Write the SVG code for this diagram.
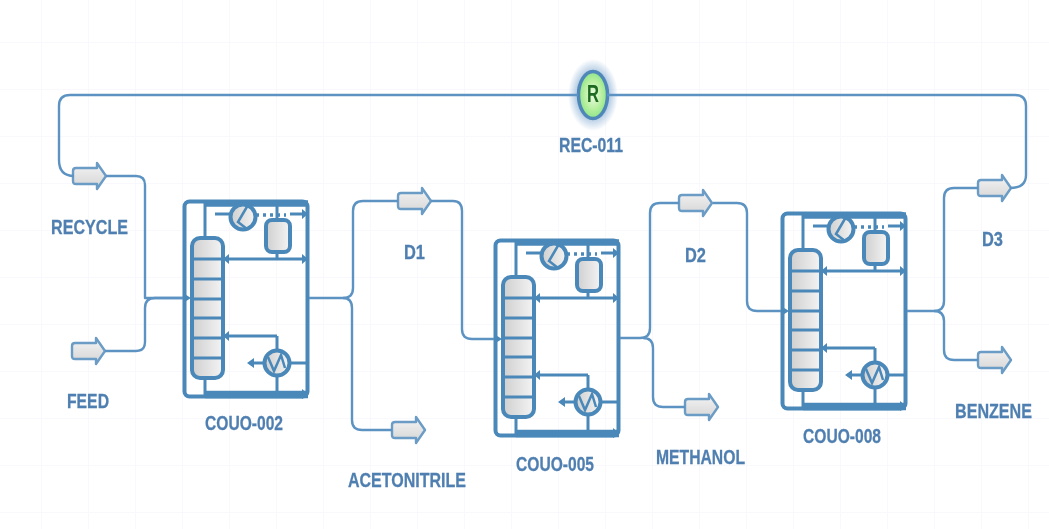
<svg xmlns="http://www.w3.org/2000/svg" xmlns:xlink="http://www.w3.org/1999/xlink" width="1049" height="529" viewBox="0 0 1049 529">
<style>
.lb{font-family:"Liberation Sans",Arial,sans-serif;font-weight:bold;font-size:20px;fill:#4f7fb0;stroke:#4f7fb0;stroke-width:.3;text-anchor:start}
.c{fill:none;stroke:#5b93c2;stroke-width:2.4;stroke-linejoin:round}
.s{fill:none;stroke:#4a88b8;stroke-width:3}
.b{fill:none;stroke:#4a88b8;stroke-width:4}
.g{fill:url(#gr);stroke:#4a88b8;stroke-width:4}
.a{fill:#4a88b8}
.st{fill:url(#gr2);stroke:#6a9cc6;stroke-width:2.4;stroke-linejoin:round}
</style>
<defs>
<filter id="soft" x="-5%" y="-5%" width="110%" height="110%"><feGaussianBlur stdDeviation="0.45"/></filter>
<pattern id="grid" width="47" height="47" patternUnits="userSpaceOnUse" x="-6" y="-5">
<path d="M47 0H0V47" fill="none" stroke="#f3f4fb" stroke-width="1"/>
</pattern>
<linearGradient id="gr"><stop offset="0" stop-color="#cfcfcf"/><stop offset="1" stop-color="#f4f4f4"/></linearGradient>
<linearGradient id="gr2" x1="0" y1="0" x2="0" y2="1"><stop offset="0" stop-color="#f4f4f4"/><stop offset="1" stop-color="#d4d4d4"/></linearGradient>
<radialGradient id="rg"><stop offset="0" stop-color="#eefbe6"/><stop offset=".6" stop-color="#b8f0a0"/><stop offset="1" stop-color="#8fe58a"/></radialGradient>
<radialGradient id="glow"><stop offset=".55" stop-color="#7fa8d0" stop-opacity=".75"/><stop offset="1" stop-color="#7fa8d0" stop-opacity="0"/></radialGradient>
<path id="stream" d="M3 5H24V0L33 13L24 26V21H3Q0 21 0 18V8Q0 5 3 5Z"/>
<g id="column">
<rect x="1.500" y="1.500" width="123" height="195" rx="5" class="b"/>
<path d="M22 38V2M94 2V20M94 52V59M94 136V150M94 176V196M22 178V196" class="s"/>
<path d="M22 3.500H125" fill="none" stroke="#4a88b8" stroke-width="6.500"/>
<path d="M22 194.500H125" fill="none" stroke="#4a88b8" stroke-width="7.500"/>
<path d="M32 14H48M107 14H120" class="s"/>
<path d="M73 15H103" fill="none" stroke="#4a88b8" stroke-width="3.500" stroke-dasharray="3 4"/>
<path class="a" d="M125 14l-6-5v10zM40 59l6-5v10zM125 59l-6-5v10zM40 136l6-5v10zM64 163l7-5v10zM125 194l-6-5v10z"/>
<path d="M44 59H120M44 136H94M68 163H81M107 163H125" class="s"/>
<rect x="83" y="20" width="24" height="32" rx="6" class="g"/>
<rect x="9" y="38" width="31" height="140" rx="8" class="g"/>
<path d="M9 59H40M9 79H40M9 99H40M9 118H40M9 138H40M9 158H40" class="s"/>
<circle cx="60" cy="17" r="12.500" class="g"/>
<path d="M65 5L55 22L64 29" fill="none" stroke="#4a88b8" stroke-width="2.500"/>
<circle cx="94" cy="163" r="12.500" class="g"/>
<path d="M85 157L91 171L98 155L102 168" fill="none" stroke="#4a88b8" stroke-width="2.500"/>
</g>
</defs>
<rect width="1049" height="529" fill="#fff"/>
<rect width="1049" height="529" fill="url(#grid)"/>
<g filter="url(#soft)">
<g id="REC-011">
<ellipse cx="593" cy="95" rx="25" ry="36" fill="url(#glow)"/>
<ellipse cx="593" cy="95" rx="14.500" ry="23.500" fill="url(#rg)" stroke="#4f88b8" stroke-width="3.500"/>
<text x="587" y="102" font-family="Liberation Sans,sans-serif" font-weight="bold" font-size="24" fill="#1f6a20" textLength="12" lengthAdjust="spacingAndGlyphs">R</text>
<text class="lb" x="559" y="152" textLength="64" lengthAdjust="spacingAndGlyphs">REC-011</text>
</g>
<g id="RECYCLE"><use xlink:href="#stream" x="73" y="163" class="st"/><text class="lb" x="51" y="234" textLength="77" lengthAdjust="spacingAndGlyphs">RECYCLE</text></g>
<g id="FEED"><use xlink:href="#stream" x="72" y="338" class="st"/><text class="lb" x="67" y="408" textLength="42" lengthAdjust="spacingAndGlyphs">FEED</text></g>
<g id="D1"><use xlink:href="#stream" x="398" y="188" class="st"/><text class="lb" x="404" y="259" textLength="21" lengthAdjust="spacingAndGlyphs">D1</text></g>
<g id="ACETONITRILE"><use xlink:href="#stream" x="392" y="417" class="st"/><text class="lb" x="348" y="487" textLength="118" lengthAdjust="spacingAndGlyphs">ACETONITRILE</text></g>
<g id="D2"><use xlink:href="#stream" x="679" y="190" class="st"/><text class="lb" x="685" y="262" textLength="21" lengthAdjust="spacingAndGlyphs">D2</text></g>
<g id="METHANOL"><use xlink:href="#stream" x="685" y="394" class="st"/><text class="lb" x="656" y="464" textLength="89" lengthAdjust="spacingAndGlyphs">METHANOL</text></g>
<g id="D3"><use xlink:href="#stream" x="978" y="175" class="st"/><text class="lb" x="982" y="246" textLength="21" lengthAdjust="spacingAndGlyphs">D3</text></g>
<g id="BENZENE"><use xlink:href="#stream" x="978" y="347" class="st"/><text class="lb" x="955" y="418" textLength="77" lengthAdjust="spacingAndGlyphs">BENZENE</text></g>
<g id="COUO-002"><use xlink:href="#column" x="183" y="200"/><text class="lb" x="205" y="430" textLength="78" lengthAdjust="spacingAndGlyphs">COUO-002</text></g>
<g id="COUO-005"><use xlink:href="#column" x="494" y="239"/><text class="lb" x="516" y="471" textLength="78" lengthAdjust="spacingAndGlyphs">COUO-005</text></g>
<g id="COUO-008"><use xlink:href="#column" x="781" y="212"/><text class="lb" x="803" y="443" textLength="78" lengthAdjust="spacingAndGlyphs">COUO-008</text></g>
<g id="connectors">
<path class="c" d="M578 95H70Q59 95 59 106V160Q59 176 74 176"/>
<path class="c" d="M106 176H136Q145 176 145 185V298H183"/>
<path class="c" d="M105 351H136Q145 351 145 342V308Q145 298 155 298H186"/>
<path class="a" d="M191 298l-8-5v10z"/>
<path class="c" d="M607 95H1015Q1026 95 1026 106V175Q1026 188 1010 188"/>
<path class="c" d="M978 188H954Q944 188 944 198V301Q944 311 934 311H907"/>
<path class="c" d="M934 311Q944 311 944 321V350Q944 360 954 360H978"/>
<path class="c" d="M309 298H343Q353 298 353 288V211Q353 201 363 201H398"/>
<path class="c" d="M343 298Q352 298 352 308V420Q352 430 362 430H392"/>
<path class="c" d="M431 201H453Q462 201 462 211V329Q462 339 472 339H497"/>
<path class="a" d="M502 339l-8-5v10z"/>
<path class="c" d="M620 338H640Q650 338 650 328V213Q650 203 660 203H679"/>
<path class="c" d="M643 338Q653 338 653 348V397Q653 407 663 407H685"/>
<path class="c" d="M713 203H737Q747 203 747 213V301Q747 311 757 311H784"/>
<path class="a" d="M789 311l-8-5v10z"/>
</g>
</g>
</svg>
